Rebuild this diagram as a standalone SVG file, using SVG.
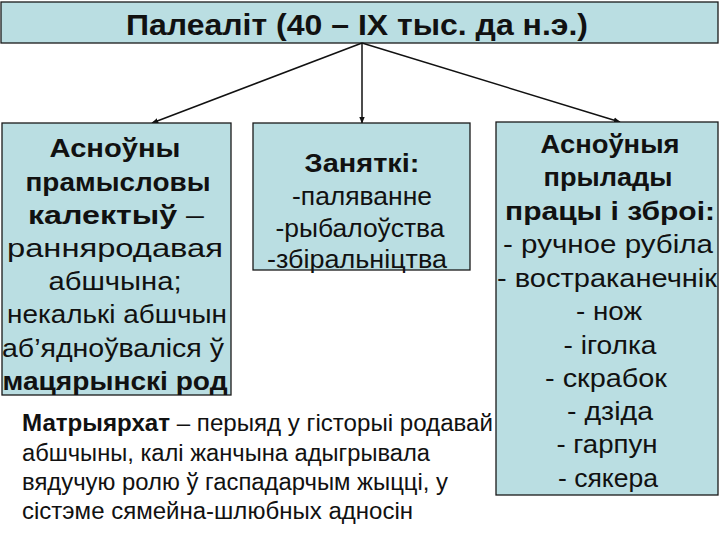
<svg xmlns="http://www.w3.org/2000/svg" width="720" height="540" viewBox="0 0 720 540">
<style>
.box{fill:#badee2;stroke:#1a1a1a;stroke-width:1.3}
.t{font-family:"Liberation Sans",Arial,sans-serif;font-size:26px;fill:#111;text-anchor:middle}
.b{font-weight:bold}
.bt{font-family:"Liberation Sans",Arial,sans-serif;font-size:23px;fill:#111}
.c{stroke:#111;stroke-width:1.5;fill:none;marker-end:url(#ah)}
</style>
<defs>
<marker id="ah" viewBox="0 0 10 10" refX="9" refY="5" markerWidth="7" markerHeight="7" orient="auto" markerUnits="userSpaceOnUse">
<path d="M0,1 L10,5 L0,9 z" fill="#111"/>
</marker>
</defs>
<rect width="720" height="540" fill="#fff"/>
<g id="title">
<rect class="box" x="1" y="2" width="717" height="41"/>
<text class="t b" x="357" y="35" style="font-family:'Liberation Sans Narrow','Liberation Sans',Arial,sans-serif;font-size:30px" textLength="462" lengthAdjust="spacingAndGlyphs">Палеаліт (40 – IX тыс. да н.э.)</text>
</g>
<g id="connectors">
<line class="c" x1="362" y1="43" x2="152" y2="123"/>
<line class="c" x1="362" y1="43" x2="362" y2="123"/>
<line class="c" x1="362" y1="43" x2="620" y2="122"/>
</g>
<g id="left">
<rect class="box" x="2" y="123" width="229" height="272"/>
<text class="t b" x="115" y="157" textLength="131" lengthAdjust="spacingAndGlyphs">Асноўны</text>
<text class="t b" x="118" y="191" textLength="185" lengthAdjust="spacingAndGlyphs">прамысловы</text>
<text class="t" x="116" y="224" textLength="176" lengthAdjust="spacingAndGlyphs"><tspan class="b">калектыў</tspan> –</text>
<text class="t" x="115" y="257" textLength="216" lengthAdjust="spacingAndGlyphs">ранняродавая</text>
<text class="t" x="115" y="290" textLength="133" lengthAdjust="spacingAndGlyphs">абшчына;</text>
<text class="t" x="117" y="323" textLength="220" lengthAdjust="spacingAndGlyphs">некалькі абшчын</text>
<text class="t" x="113" y="357" textLength="222" lengthAdjust="spacingAndGlyphs">аб’ядноўваліся ў</text>
<text class="t b" x="115" y="390" textLength="225" lengthAdjust="spacingAndGlyphs">мацярынскі род</text>
</g>
<g id="middle">
<rect class="box" x="253" y="123" width="217" height="147"/>
<text class="t b" x="362" y="172" textLength="115" lengthAdjust="spacingAndGlyphs">Заняткі:</text>
<text class="t" x="362" y="205" textLength="140" lengthAdjust="spacingAndGlyphs">-паляванне</text>
<text class="t" x="360" y="237" textLength="169" lengthAdjust="spacingAndGlyphs">-рыбалоўства</text>
<text class="t" x="357" y="268" textLength="180" lengthAdjust="spacingAndGlyphs">-збіральніцтва</text>
</g>
<g id="right">
<rect class="box" x="496" y="122" width="222" height="373"/>
<text class="t b" x="610" y="153" textLength="139" lengthAdjust="spacingAndGlyphs">Асноўныя</text>
<text class="t b" x="608" y="186" textLength="129" lengthAdjust="spacingAndGlyphs">прылады</text>
<text class="t b" x="610" y="220" textLength="210" lengthAdjust="spacingAndGlyphs">працы і зброі:</text>
<text class="t" x="608" y="253" textLength="210" lengthAdjust="spacingAndGlyphs">- ручное рубіла</text>
<text class="t" x="607" y="287" textLength="220" lengthAdjust="spacingAndGlyphs">- востраканечнік</text>
<text class="t" x="609" y="320" textLength="66" lengthAdjust="spacingAndGlyphs">- нож</text>
<text class="t" x="610" y="354" textLength="93" lengthAdjust="spacingAndGlyphs">- іголка</text>
<text class="t" x="606" y="387" textLength="122" lengthAdjust="spacingAndGlyphs">- скрабок</text>
<text class="t" x="610" y="420" textLength="86" lengthAdjust="spacingAndGlyphs">- дзіда</text>
<text class="t" x="607" y="453" textLength="101" lengthAdjust="spacingAndGlyphs">- гарпун</text>
<text class="t" x="608" y="487" textLength="100" lengthAdjust="spacingAndGlyphs">- сякера</text>
</g>
<g id="note">
<text class="bt" x="22" y="431" textLength="471" lengthAdjust="spacingAndGlyphs"><tspan font-weight="bold">Матрыярхат</tspan> – перыяд у гісторыі родавай</text>
<text class="bt" x="22" y="461" textLength="408" lengthAdjust="spacingAndGlyphs">абшчыны, калі жанчына адыгрывала</text>
<text class="bt" x="22" y="490" textLength="426" lengthAdjust="spacingAndGlyphs">вядучую ролю ў гаспадарчым жыцці, у</text>
<text class="bt" x="22" y="519" textLength="391" lengthAdjust="spacingAndGlyphs">сістэме сямейна-шлюбных адносін</text>
</g>
</svg>
